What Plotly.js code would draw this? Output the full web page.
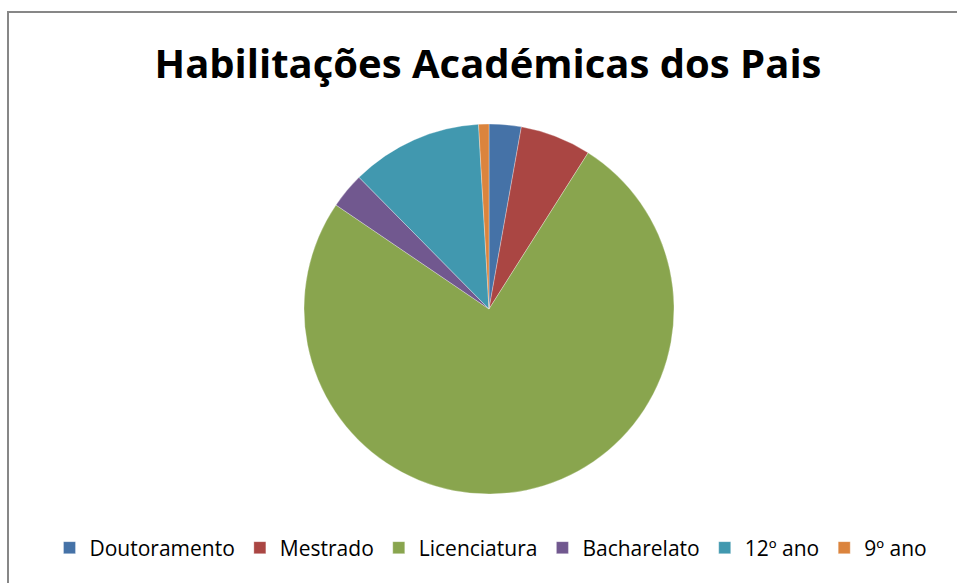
<!DOCTYPE html>
<html>
<head>
<meta charset="utf-8">
<script src="https://cdn.plot.ly/plotly-3.0.1.min.js"></script>
<style>
  html, body { margin: 0; padding: 0; background: #fff; overflow: hidden; }
  #chart { width: 957px; height: 583px; position: absolute; left: 0; top: 0; }
  #frame { position: absolute; left: 7px; top: 11px; width: 1000px; height: 1000px;
           border-left: 2px solid #878787; border-top: 2px solid #878787; pointer-events: none; }
</style>
</head>
<body>
<div id="chart"></div>
<div id="frame"></div>
<script>
const categories = ["Doutoramento", "Mestrado", "Licenciatura", "Bacharelato", "12º ano", "9º ano"];
const values = [2.8, 6.2, 75.5, 3.1, 11.5, 0.9];
const colors = ["#4572A7", "#AA4643", "#89A54E", "#71588F", "#4198AF", "#DB843D"];

const W = 957, H = 583;
const cx = 489, cy = 309, R = 185;

const data = [{
  type: "pie",
  labels: categories,
  values: values,
  sort: false,
  direction: "clockwise",
  rotation: 0,
  textinfo: "none",
  hoverinfo: "label+percent",
  domain: { x: [(cx - R) / W, (cx + R) / W], y: [1 - (cy + R) / H, 1 - (cy - R) / H] },
  marker: { colors: colors, line: { color: "rgba(255,255,255,0.6)", width: 0.5 } }
}];

const layout = {
  width: W,
  height: H,
  paper_bgcolor: "#ffffff",
  plot_bgcolor: "#ffffff",
  margin: { l: 0, r: 0, t: 0, b: 0, autoexpand: false },
  title: {
    text: "<b>Habilitações Académicas dos Pais</b>",
    font: { family: "Open Sans, sans-serif", size: 40, color: "#000000" },
    xref: "container", yref: "container",
    x: 488 / W, xanchor: "center",
    y: 1 - 64 / H, yanchor: "middle"
  },
  showlegend: true,
  legend: {
    orientation: "h",
    xref: "container", yref: "container",
    x: 491 / W, xanchor: "center",
    y: 1 - 548 / H, yanchor: "middle",
    font: { family: "Open Sans, sans-serif", size: 21, color: "#000000" },
    itemwidth: 30,
    traceorder: "normal",
    bgcolor: "rgba(0,0,0,0)"
  }
};

Plotly.newPlot("chart", data, layout, { displayModeBar: false, staticPlot: true });
</script>
</body>
</html>
